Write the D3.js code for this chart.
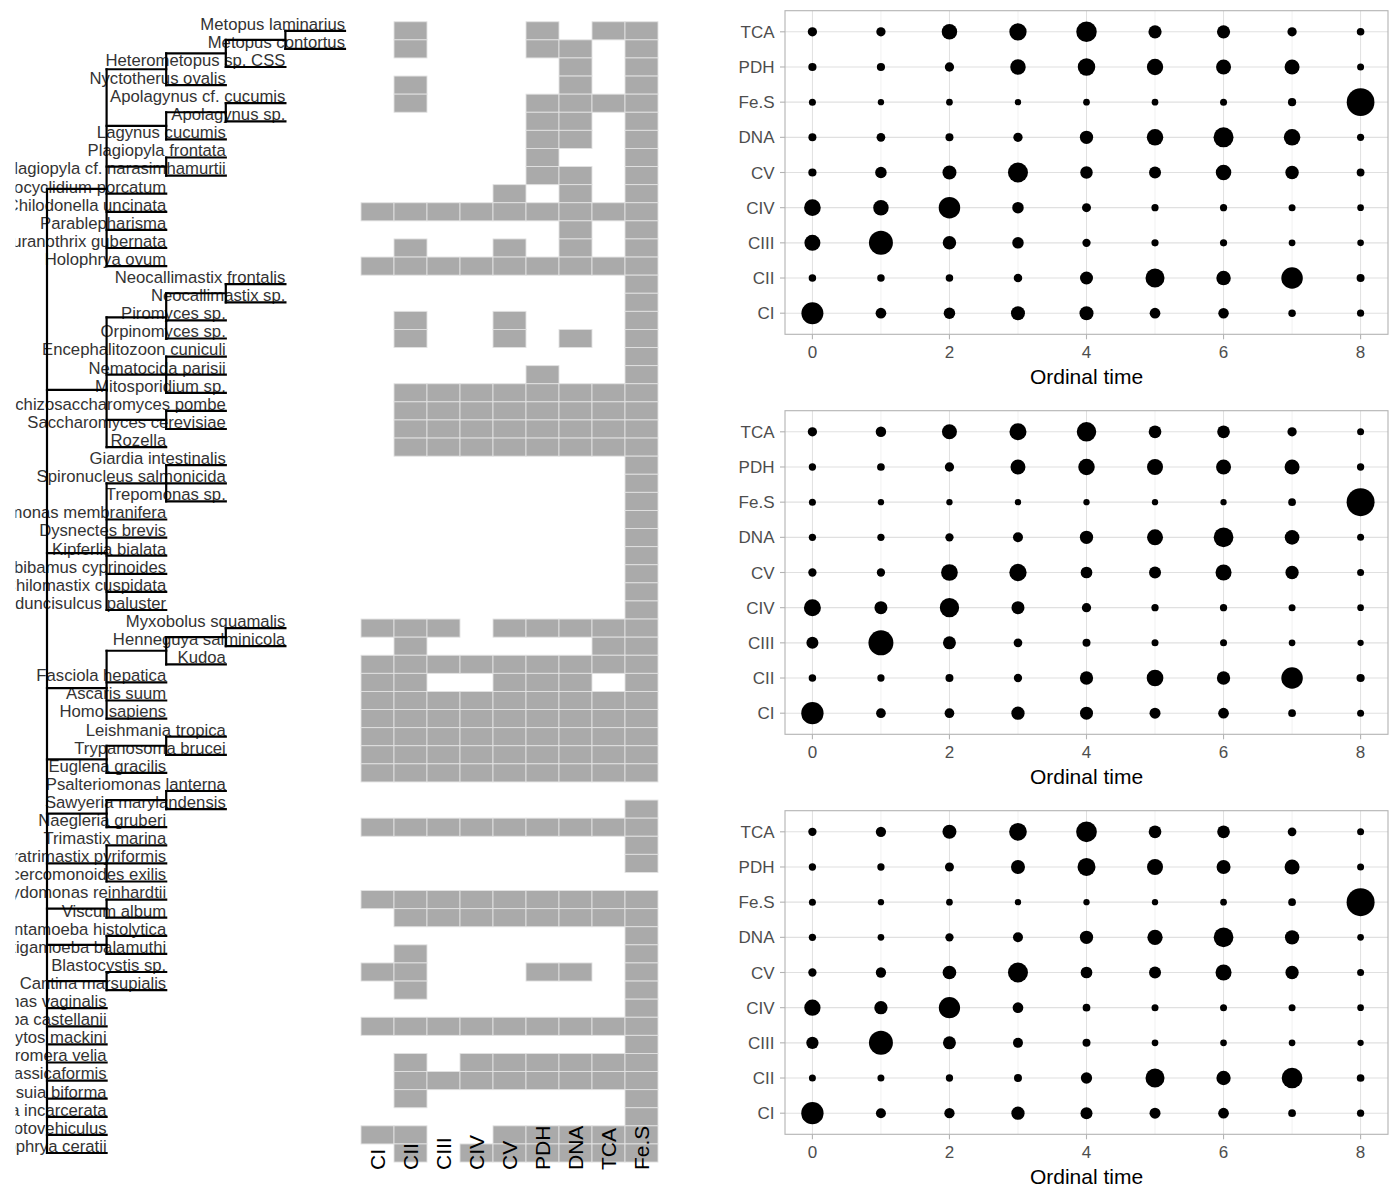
<!DOCTYPE html>
<html>
<head>
<meta charset="utf-8">
<script src="https://cdn.jsdelivr.net/npm/d3@7"></script>
<style>
  html, body { margin: 0; padding: 0; background: #ffffff; }
  svg { display: block; font-family: "Liberation Sans", Arial, Helvetica, sans-serif; }
</style>
</head>
<body>
<svg id="chart" width="1400" height="1200"></svg>
<script>
// ---------------- DATA ----------------
const taxa = [
  "Metopus laminarius","Metopus contortus","Heterometopus sp. CSS","Nyctotherus ovalis",
  "Apolagynus cf. cucumis","Apolagynus sp.","Lagynus cucumis","Plagiopyla frontata",
  "Plagiopyla cf. narasimhamurtii","Pseudocyclidium porcatum","Chilodonella uncinata","Parablepharisma",
  "Muranothrix gubernata","Holophrya ovum","Neocallimastix frontalis","Neocallimastix sp.",
  "Piromyces sp.","Orpinomyces sp.","Encephalitozoon cuniculi","Nematocida parisii",
  "Mitosporidium sp.","Schizosaccharomyces pombe","Saccharomyces cerevisiae","Rozella",
  "Giardia intestinalis","Spironucleus salmonicida","Trepomonas sp.","Carpediemonas membranifera",
  "Dysnectes brevis","Kipferlia bialata","Ergobibamus cyprinoides","Chilomastix cuspidata",
  "Aduncisulcus paluster","Myxobolus squamalis","Henneguya salminicola","Kudoa",
  "Fasciola hepatica","Ascaris suum","Homo sapiens","Leishmania tropica",
  "Trypanosoma brucei","Euglena gracilis","Psalteriomonas lanterna","Sawyeria marylandensis",
  "Naegleria gruberi","Trimastix marina","Paratrimastix pyriformis","Monocercomonoides exilis",
  "Chlamydomonas reinhardtii","Viscum album","Entamoeba histolytica","Mastigamoeba balamuthi",
  "Blastocystis sp.","Cantina marsupialis","Trichomonas vaginalis","Acanthamoeba castellanii",
  "Mikrocytos mackini","Chromera velia","Vitrella brassicaformis","Pygsuia biforma",
  "Stygiella incarcerata","Protovehiculus","Amoebophrya ceratii"
];

// cladogram topology (nested arrays, leaves are taxon names)
const treeTopology = [
  [
    [[["Metopus laminarius","Metopus contortus"],"Heterometopus sp. CSS"],"Nyctotherus ovalis"],
    [["Apolagynus cf. cucumis","Apolagynus sp."],"Lagynus cucumis"],
    ["Plagiopyla frontata","Plagiopyla cf. narasimhamurtii"],
    "Pseudocyclidium porcatum","Chilodonella uncinata","Parablepharisma","Muranothrix gubernata","Holophrya ovum"
  ],
  [
    [["Neocallimastix frontalis","Neocallimastix sp."],"Piromyces sp.","Orpinomyces sp."],
    ["Encephalitozoon cuniculi","Nematocida parisii","Mitosporidium sp."],
    ["Schizosaccharomyces pombe","Saccharomyces cerevisiae"],
    "Rozella"
  ],
  [
    ["Giardia intestinalis","Spironucleus salmonicida","Trepomonas sp."],
    "Carpediemonas membranifera","Dysnectes brevis","Kipferlia bialata",
    "Ergobibamus cyprinoides","Chilomastix cuspidata","Aduncisulcus paluster"
  ],
  [[["Myxobolus squamalis","Henneguya salminicola"],"Kudoa"],"Fasciola hepatica","Ascaris suum","Homo sapiens"],
  [["Leishmania tropica","Trypanosoma brucei"],"Euglena gracilis"],
  [["Psalteriomonas lanterna","Sawyeria marylandensis"],"Naegleria gruberi"],
  ["Trimastix marina","Paratrimastix pyriformis","Monocercomonoides exilis"],
  ["Chlamydomonas reinhardtii","Viscum album"],
  ["Entamoeba histolytica","Mastigamoeba balamuthi"],
  ["Blastocystis sp.","Cantina marsupialis"],
  "Trichomonas vaginalis","Acanthamoeba castellanii","Mikrocytos mackini","Chromera velia",
  "Vitrella brassicaformis","Pygsuia biforma","Stygiella incarcerata","Protovehiculus","Amoebophrya ceratii"
];

const heatColumns = ["CI","CII","CIII","CIV","CV","PDH","DNA","TCA","Fe.S"];

// presence (1) / absence (0) per taxon, in heatColumns order
const presence = [
  "010001011","010001101","000000101","010000101","010001111","000001101","000001101","000001001",
  "000001101","000010101","111111111","000000101","010010101","111111111","000000001","000000001",
  "010010001","010010101","000000001","000001001","011111111","011111111","011111111","011111111",
  "000000001","000000001","000000001","000000001","000000001","000000001","000000001","000000001",
  "000000001","111011111","010000011","111111111","110011101","111111111","111111111","111111111",
  "111111111","111111111","000000000","000000001","111111111","000000001","000000001","000000000",
  "111111111","011111111","000000001","010000001","110001101","010000001","000000001","111111111",
  "000000001","010111111","011111111","010000001","000000001","110011111","010111111"
];

// dot plots
const modules = ["CI","CII","CIII","CIV","CV","DNA","Fe.S","PDH","TCA"]; // bottom -> top
const ordinalTimes = [0,1,2,3,4,5,6,7,8];
const timeTicks = [0,2,4,6,8];

// estimated dot sizes (diameter units), rows follow `modules`, columns follow `ordinalTimes`
const panelTopSizes = [
  [22, 10.7, 11.5, 14, 14, 10.7, 10.5, 7.5, 7.2],
  [7.5, 7.5, 7.5, 8.5, 13, 19, 14.5, 21.5, 8],
  [16, 24, 13.5, 11.5, 8.3, 7.2, 7.2, 6.8, 6.6],
  [16.7, 15.5, 21.5, 11.5, 9, 7.2, 7.2, 7, 6.7],
  [8.2, 11.5, 14, 20, 12.5, 12, 15.5, 13.5, 7.8],
  [8, 8.7, 8, 9.3, 13.3, 16.5, 20, 16.5, 7.2],
  [7, 6.3, 6.7, 6.3, 6.7, 6.7, 7, 8.2, 27.7],
  [8.2, 8.2, 9.3, 15.5, 17.5, 16.3, 15, 15, 7],
  [9.3, 9.3, 15.5, 17.3, 20.5, 13.2, 13.2, 9.3, 7.6]
];
const panelMiddleSizes = [
  [22.3, 9.7, 9.7, 13.3, 13, 11, 10.7, 7.7, 7],
  [7.5, 7.3, 8, 8.3, 13.3, 16.7, 13.3, 21.5, 8.2],
  [12, 25, 13, 8.7, 8, 7, 7, 6.7, 6.3],
  [17, 13, 19.3, 13, 9.3, 7.3, 7.3, 7, 6.7],
  [8.3, 8.3, 16.7, 17.3, 11.7, 12, 16, 13.3, 7],
  [7.3, 7.3, 8.3, 10, 13.3, 16, 19.7, 14.7, 7],
  [7, 6.3, 6.3, 6.3, 6.3, 6.3, 6.3, 7.7, 28],
  [7.3, 7.7, 9.3, 15, 16.5, 16, 15, 15, 7.3],
  [9.3, 10.5, 15, 17, 19.5, 12.7, 12.7, 9.3, 7]
];
const panelBottomSizes = [
  [22.3, 10, 10.3, 13.3, 12, 11, 10.7, 7.7, 7.3],
  [7, 7, 7.3, 8, 11.3, 19, 14.3, 20.7, 7.7],
  [12.3, 24, 13, 10, 8, 6.7, 6.7, 6.7, 6.3],
  [16.3, 13.3, 21.3, 10.7, 7.7, 7, 7, 7, 6.7],
  [8.3, 10.3, 13.7, 20, 11.7, 12, 16, 13.3, 7],
  [7.3, 6.7, 8.3, 10, 13.3, 15.3, 19.7, 14.3, 6.7],
  [7, 6.3, 6.7, 6.3, 6.3, 6.3, 6.7, 7.7, 28],
  [7.3, 7.3, 9, 14, 18, 16, 14, 15, 7],
  [8.3, 10.3, 14, 17.7, 20.7, 12.7, 12.7, 8.7, 7]
];

// ---------------- DRAWING ----------------
const svg = d3.select("#chart");
const FONT = '"Liberation Sans", Arial, Helvetica, sans-serif';

// rows shared by tree and heatmap
const rowBand = d3.scaleBand().domain(d3.range(taxa.length)).range([21.75, 1162.05]).padding(0);
const rowCenter = i => rowBand(i) + rowBand.bandwidth() / 2;

// ----- Tree -----
const depthScale = d3.scaleLinear().domain([0, 5]).range([47, 345]);
const root = d3.hierarchy(treeTopology, d => Array.isArray(d) ? d : null);
root.eachAfter(n => {
  if (!n.children) n.y = rowCenter(taxa.indexOf(n.data));
  else n.y = d3.mean(n.children, c => c.y);
  n.x = depthScale(n.depth);
});

const defs = svg.append("defs");
defs.append("clipPath").attr("id", "treeClip")
  .append("rect").attr("x", 15.5).attr("y", 0).attr("width", 400).attr("height", 1200);

const treeG = svg.append("g").attr("clip-path", "url(#treeClip)");

// labels first (lines drawn over)
treeG.selectAll("text.leaf")
  .data(root.leaves())
  .join("text")
  .attr("class", "leaf")
  .attr("x", d => d.x)
  .attr("y", d => d.y - 1.2)
  .attr("text-anchor", "end")
  .attr("font-size", 16.7)
  .attr("fill", "#333333")
  .text(d => d.data);

const edges = [];
root.descendants().forEach(n => {
  if (n.parent) edges.push({x1: n.parent.x, x2: n.x, y1: n.y, y2: n.y});
  if (n.children) {
    const ys = n.children.map(c => c.y);
    edges.push({x1: n.x, x2: n.x, y1: d3.min(ys), y2: d3.max(ys)});
  }
});
treeG.selectAll("line.edge")
  .data(edges)
  .join("line")
  .attr("class", "edge")
  .attr("x1", d => d.x1).attr("x2", d => d.x2)
  .attr("y1", d => d.y1).attr("y2", d => d.y2)
  .attr("stroke", "#000")
  .attr("stroke-width", 2.2)
  .attr("stroke-linecap", "square");

// ----- Heatmap -----
const colBand = d3.scaleBand().domain(heatColumns).range([361, 658]).padding(0);
const cells = [];
presence.forEach((code, i) => {
  heatColumns.forEach((c, j) => { if (code[j] === "1") cells.push({row: i, col: c}); });
});
const heatG = svg.append("g");
heatG.selectAll("rect")
  .data(cells)
  .join("rect")
  .attr("x", d => colBand(d.col))
  .attr("y", d => rowBand(d.row))
  .attr("width", colBand.bandwidth())
  .attr("height", rowBand.bandwidth())
  .attr("fill", "#aaaaaa")
  .attr("stroke", "#e2e2e2")
  .attr("stroke-width", 0.9);

heatG.selectAll("text.col")
  .data(heatColumns)
  .join("text")
  .attr("class", "col")
  .attr("transform", d => `translate(${colBand(d) + colBand.bandwidth() / 2},1170) rotate(-90)`)
  .attr("dy", "0.36em")
  .attr("text-anchor", "start")
  .attr("font-size", 21)
  .attr("fill", "#000")
  .text(d => d);

// ----- Dot plots -----
const xDot = d3.scaleLinear().domain([-0.4, 8.4]).range([785, 1388]);
const rDot = d3.scaleLinear().domain([0, 28]).range([0, 14]);

function drawPanel(sizes, offset) {
  const top = 10.7 + offset, bottom = 334.3 + offset;
  const yDot = d3.scalePoint().domain(modules).range([bottom, top]).padding(0.6);
  const g = svg.append("g");

  // minor vertical grid
  g.selectAll("line.minor")
    .data(ordinalTimes.filter(t => !timeTicks.includes(t)))
    .join("line").attr("class", "minor")
    .attr("x1", d => xDot(d)).attr("x2", d => xDot(d))
    .attr("y1", top).attr("y2", bottom)
    .attr("stroke", "#ebebeb").attr("stroke-width", 0.7);
  // major vertical grid
  g.selectAll("line.vmajor")
    .data(timeTicks)
    .join("line").attr("class", "vmajor")
    .attr("x1", d => xDot(d)).attr("x2", d => xDot(d))
    .attr("y1", top).attr("y2", bottom)
    .attr("stroke", "#e0e0e0").attr("stroke-width", 1);
  // horizontal grid
  g.selectAll("line.hmajor")
    .data(modules)
    .join("line").attr("class", "hmajor")
    .attr("x1", 785).attr("x2", 1388)
    .attr("y1", d => yDot(d)).attr("y2", d => yDot(d))
    .attr("stroke", "#e0e0e0").attr("stroke-width", 1.1);

  // dots
  const pts = [];
  modules.forEach((m, i) => ordinalTimes.forEach((t, j) => pts.push({m, t, s: sizes[i][j]})));
  g.selectAll("circle")
    .data(pts)
    .join("circle")
    .attr("cx", d => xDot(d.t))
    .attr("cy", d => yDot(d.m))
    .attr("r", d => rDot(d.s))
    .attr("fill", "#000");

  // border
  g.append("rect")
    .attr("x", 785).attr("y", top).attr("width", 1388 - 785).attr("height", bottom - top)
    .attr("fill", "none").attr("stroke", "#b3b3b3").attr("stroke-width", 1.1);

  // y axis
  g.selectAll("line.ytick")
    .data(modules).join("line").attr("class", "ytick")
    .attr("x1", 780).attr("x2", 785)
    .attr("y1", d => yDot(d)).attr("y2", d => yDot(d))
    .attr("stroke", "#b3b3b3").attr("stroke-width", 1.1);
  g.selectAll("text.ylab")
    .data(modules).join("text").attr("class", "ylab")
    .attr("x", 774.5).attr("y", d => yDot(d))
    .attr("dy", "0.36em")
    .attr("text-anchor", "end")
    .attr("font-size", 17)
    .attr("fill", "#4d4d4d")
    .text(d => d);

  // x axis
  g.selectAll("line.xtick")
    .data(timeTicks).join("line").attr("class", "xtick")
    .attr("x1", d => xDot(d)).attr("x2", d => xDot(d))
    .attr("y1", bottom).attr("y2", bottom + 5)
    .attr("stroke", "#b3b3b3").attr("stroke-width", 1.1);
  g.selectAll("text.xlab")
    .data(timeTicks).join("text").attr("class", "xlab")
    .attr("x", d => xDot(d)).attr("y", bottom + 18)
    .attr("dy", "0.36em")
    .attr("text-anchor", "middle")
    .attr("font-size", 17)
    .attr("fill", "#4d4d4d")
    .text(d => d);

  g.append("text")
    .attr("x", (785 + 1388) / 2).attr("y", bottom + 42)
    .attr("dy", "0.36em")
    .attr("text-anchor", "middle")
    .attr("font-size", 21)
    .attr("fill", "#000")
    .text("Ordinal time");
}

drawPanel(panelTopSizes, 0);
drawPanel(panelMiddleSizes, 400);
drawPanel(panelBottomSizes, 800);
</script>
</body>
</html>
